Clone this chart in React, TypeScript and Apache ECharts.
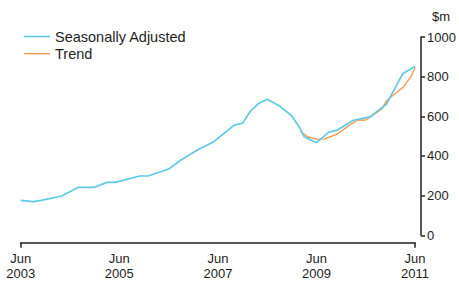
import React, { useEffect, useRef } from "react";
import * as echarts from "echarts";

// months since Jun 2003
const saMonths = [0, 3, 5, 10, 14, 18, 21, 23, 29, 31, 36, 39, 43, 47, 52, 54, 56, 58, 60, 63, 66, 68, 69, 72, 75, 77, 81, 85, 89, 93, 96];
const saValues = [176, 170, 176, 198, 242, 242, 267, 267, 299, 299, 334, 380, 430, 472, 556, 565, 628, 666, 686, 652, 602, 540, 497, 467, 520, 530, 580, 597, 660, 815, 852];

const trendMonths = [68, 70, 72, 74, 77, 80, 82, 84, 88, 89, 93, 95, 96];
const trendValues = [525, 495, 485, 486, 510, 555, 582, 581, 638, 678, 745, 800, 848];

const xTickMonths = [0, 24, 48, 72, 96];
const yTicks = [0, 200, 400, 600, 800, 1000];

const FONT = "'Liberation Sans', Arial, Helvetica, sans-serif";
const TEXT = "#1e1e1e";
const SA_COLOR = "#5fc9e6";
const TREND_COLOR = "#f5923a";

export default function App() {
  const ref = useRef<HTMLDivElement>(null);
  useEffect(() => {
    document.body.style.margin = "0";
    const chart = echarts.init(ref.current!, null, { renderer: "svg" });
    chart.setOption({
      animation: false,
      grid: { left: 20.7, right: 42.3, top: 37, bottom: 45.7, containLabel: false },
      legend: {
        orient: "vertical",
        left: 19,
        top: 24,
        padding: 5,
        itemWidth: 26,
        itemHeight: 14,
        itemGap: 2.2,
        textStyle: { fontFamily: FONT, fontSize: 14.5, color: TEXT },
        data: [
          { name: "Seasonally Adjusted", icon: "path://M0,0 L26,0 L26,1.7 L0,1.7 Z", itemStyle: { color: SA_COLOR } },
          { name: "Trend", icon: "path://M0,0 L26,0 L26,1.3 L0,1.3 Z", itemStyle: { color: TREND_COLOR } },
        ],
      },
      graphic: [
        {
          type: "text",
          left: 432,
          top: 10,
          style: { text: "$m", font: `13px ${FONT}`, fill: TEXT },
        },
      ],
      xAxis: {
        type: "value",
        min: 0,
        max: 96,
        interval: 24,
        offset: 7.4,
        axisLine: { show: true, onZero: false, lineStyle: { color: "#222", width: 1.5 } },
        axisTick: { show: true, customValues: [0, 96], length: 5, lineStyle: { color: "#222", width: 1.5 } },
        axisLabel: {
          customValues: xTickMonths,
          formatter: (v: number) => `Jun\n${2003 + Math.round(v / 12)}`,
          fontFamily: FONT,
          fontSize: 13,
          lineHeight: 15,
          color: TEXT,
          margin: 8,
        },
        splitLine: { show: false },
      },
      yAxis: {
        type: "value",
        position: "right",
        min: 0,
        max: 1000,
        interval: 200,
        offset: 6,
        axisLine: { show: true, onZero: false, lineStyle: { color: "#222", width: 1.5 } },
        axisTick: { show: true, inside: false, length: 4, lineStyle: { color: "#222", width: 1.5 } },
        axisLabel: {
          customValues: yTicks,
          formatter: (v: number) => String(v),
          fontFamily: FONT,
          fontSize: 13,
          color: TEXT,
          margin: 6,
        },
        splitLine: { show: false },
      },
      series: [
        {
          name: "Seasonally Adjusted",
          type: "line",
          symbol: "none",
          data: saMonths.map((m, i) => [m, saValues[i]]),
          lineStyle: { color: SA_COLOR, width: 1.7 },
          itemStyle: { color: SA_COLOR },
          z: 3,
        },
        {
          name: "Trend",
          type: "line",
          symbol: "none",
          data: trendMonths.map((m, i) => [m, trendValues[i]]),
          lineStyle: { color: TREND_COLOR, width: 1.2 },
          itemStyle: { color: TREND_COLOR },
          z: 2,
        },
      ],
    });
    return () => chart.dispose();
  }, []);
  return <div ref={ref} style={{ width: 459, height: 281 }} />;
}
